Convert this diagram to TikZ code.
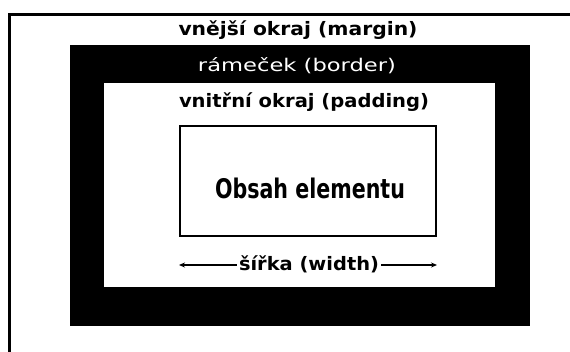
\documentclass[tikz,border=0pt]{standalone}
\usepackage{fontspec}
\setmainfont{DejaVu Sans}
\usetikzlibrary{arrows.meta}
\newcommand{\fitw}[2]{\resizebox{#1}{\height}{#2}}
\begin{document}
\begin{tikzpicture}[x=1pt,y=-1pt,
  lbl/.style={anchor=base, inner sep=0pt},
  boxnode/.style={anchor=north west, inner sep=0pt, outer sep=0pt},
  dim/.style={line width=2pt, -{Stealth[length=6pt,width=5pt]}},
]
\path[use as bounding box] (0,0) rectangle (570,351);
\begin{scope}
\clip (0,0) rectangle (570,351);
\fill[white] (0,0) rectangle (570,351);
\coordinate (fb) at (9.3,360);
\coordinate (fc) at (9.3,14.3);
\coordinate (fr) at (580,14.3);
\draw[line width=2.6pt] (fb) -- (fc) -- (fr);
\end{scope}
% border (black), padding (white), content
\node[boxnode, fill=black, minimum width=460pt, minimum height=281pt] (bord) at (70,45) {};
\node[boxnode, fill=white, minimum width=391pt, minimum height=204pt] (pad) at (104,83) {};
\node[boxnode, draw, line width=2pt, minimum width=256pt, minimum height=110pt] (cont) at (180,126) {};
% texts
\node[lbl] (margin) at (298,35) {\fontsize{18.5}{20}\selectfont\bfseries\fitw{239pt}{vnější okraj (margin)}};
\node[lbl, text=white] (border) at (297,71) {\fontsize{17.5}{20}\selectfont\fitw{198pt}{rámeček (border)}};
\node[lbl] (padding) at (304,107) {\fontsize{18.5}{20}\selectfont\bfseries\fitw{250pt}{vnitřní okraj (padding)}};
\node[lbl] (obsah) at (310,198) {\fontsize{27}{29}\selectfont\bfseries\fitw{190pt}{Obsah elementu}};
\node[lbl] (sirka) at (309,270) {\fontsize{18.5}{20}\selectfont\bfseries\fitw{140pt}{šířka (width)}};
\coordinate (aL) at (179,265);
\coordinate (aR) at (437,265);
\draw[dim] ([xshift=-2pt]sirka.west |- aL) -- (aL);
\draw[dim] ([xshift=2pt]sirka.east |- aR) -- (aR);
\end{tikzpicture}
\end{document}
